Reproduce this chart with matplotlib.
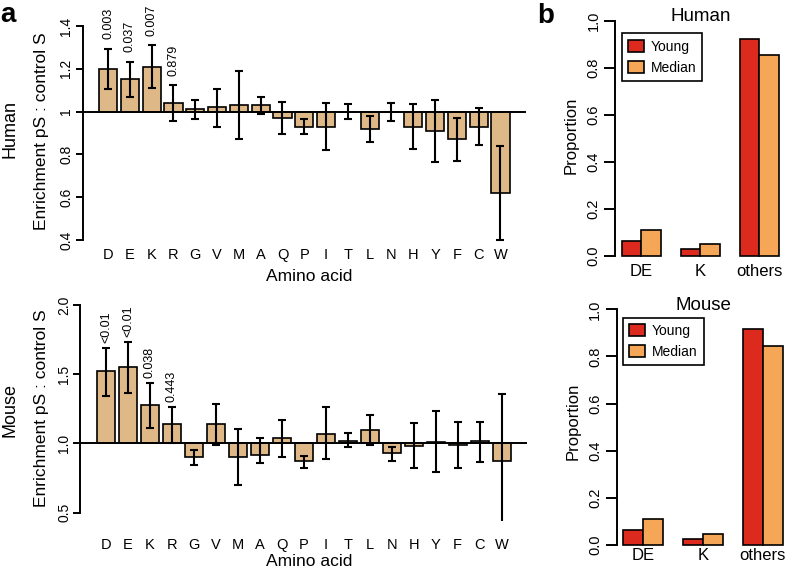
import numpy as np
import matplotlib
matplotlib.use('Agg')
import matplotlib.pyplot as plt

plt.rcParams['font.family'] = ['Liberation Sans', 'DejaVu Sans']

# data
amino = ['D', 'E', 'K', 'R', 'G', 'V', 'M', 'A', 'Q', 'P', 'I', 'T', 'L', 'N', 'H', 'Y', 'F', 'C', 'W']

human_val = [1.20, 1.15, 1.21, 1.04, 1.01, 1.02, 1.03, 1.03, 0.97, 0.93, 0.93, 1.00, 0.92, 1.00, 0.93, 0.91, 0.87, 0.93, 0.62]
human_lo = [1.107, 1.07, 1.112, 0.958, 0.966, 0.93, 0.871, 0.99, 0.894, 0.895, 0.82, 0.964, 0.858, 0.956, 0.823, 0.764, 0.77, 0.845, 0.40]
human_hi = [1.294, 1.233, 1.31, 1.122, 1.052, 1.107, 1.188, 1.069, 1.044, 0.964, 1.04, 1.035, 0.98, 1.042, 1.036, 1.055, 0.969, 1.017, 0.84]
human_p = ['0.003', '0.037', '0.007', '0.879']

mouse_val = [1.52, 1.55, 1.28, 1.14, 0.90, 1.14, 0.90, 0.92, 1.04, 0.87, 1.07, 1.02, 1.10, 0.93, 0.98, 1.01, 0.99, 1.02, 0.87]
mouse_lo = [1.343, 1.365, 1.115, 1.004, 0.844, 0.988, 0.70, 0.86, 0.904, 0.824, 0.887, 0.971, 0.988, 0.875, 0.82, 0.795, 0.824, 0.867, 0.387]
mouse_hi = [1.692, 1.735, 1.44, 1.264, 0.952, 1.288, 1.108, 1.036, 1.168, 0.911, 1.26, 1.079, 1.204, 0.976, 1.149, 1.233, 1.156, 1.156, 1.36]
mouse_p = ['<0.01', '<0.01', '0.038', '0.443']

groups = ['DE', 'K', 'others']
human_young = [0.063, 0.030, 0.921]
human_median = [0.109, 0.050, 0.854]
mouse_young = [0.064, 0.024, 0.915]
mouse_median = [0.110, 0.045, 0.844]

tan = '#DEB887'
c_young = '#DD2A1E'
c_median = '#F5A656'

W, H = 786, 568
fig = plt.figure(figsize=(W / 100, H / 100), dpi=100)


def px_axes(x0, y0, x1, y1):
    # pixel box (top-left origin) -> figure axes
    return fig.add_axes([x0 / W, 1 - y1 / H, (x1 - x0) / W, (y1 - y0) / H])


def enrich_panel(ax, val, lo, hi, pvals, ylim, yticks, ylabs, xpad, p_off):
    val = np.array(val)
    x = 0.7 + 1.2 * np.arange(len(amino))
    ax.bar(x, val - 1, bottom=1, width=1, color=tan, edgecolor='black', linewidth=1.2, zorder=2)
    ax.axhline(1, color='black', lw=1.4, zorder=3)
    ax.errorbar(x, val, yerr=[val - np.array(lo), np.array(hi) - val], fmt='none',
                ecolor='black', elinewidth=1.5, capsize=3, capthick=1.5, zorder=4)
    for i, p in enumerate(pvals):
        ax.annotate(p, (x[i], hi[i]), xytext=(0, p_off), textcoords='offset points',
                    rotation=90, ha='center', va='bottom', fontsize=9)
    ax.set_xlim(-0.704, 23.704)
    ax.set_ylim(*ylim)
    ax.set_xticks(x)
    ax.set_xticklabels(amino, fontsize=10.5)
    ax.tick_params(axis='x', length=0, pad=xpad)
    ax.set_yticks(yticks)
    ax.set_yticklabels(ylabs, rotation=90, va='center', fontsize=10)
    ax.tick_params(axis='y', length=5, width=1.4, pad=1.5)
    for s in ['top', 'right', 'bottom']:
        ax.spines[s].set_visible(False)
    ax.spines['left'].set_linewidth(1.4)
    ax.spines['left'].set_bounds(yticks[0], yticks[-1])
    ax.patch.set_visible(False)


def prop_panel(ax, young, median, title, xpad, leg_xy):
    xg = np.array([2, 5, 8])
    b1 = ax.bar(xg - 0.5, young, width=1, color=c_young, edgecolor='black', linewidth=1.2)
    b2 = ax.bar(xg + 0.5, median, width=1, color=c_median, edgecolor='black', linewidth=1.2)
    ax.set_xlim(0.68, 9.32)
    ax.set_ylim(-0.04, 1.04)
    ax.set_xticks(xg)
    ax.set_xticklabels(groups, fontsize=12)
    ax.tick_params(axis='x', length=0, pad=xpad)
    yt = [0, 0.2, 0.4, 0.6, 0.8, 1.0]
    ax.set_yticks(yt)
    ax.set_yticklabels(['%.1f' % v for v in yt], rotation=90, va='center', fontsize=10.5)
    ax.tick_params(axis='y', length=8, width=1.4, pad=2.5)
    for s in ['top', 'right', 'bottom']:
        ax.spines[s].set_visible(False)
    ax.spines['left'].set_linewidth(1.4)
    ax.spines['left'].set_bounds(0, 1)
    ax.patch.set_visible(False)
    ax.text(0.5, 0.978, title, transform=ax.transAxes, ha='center', va='center', fontsize=13.5)
    leg = ax.legend([b1, b2], ['Young', 'Median'], loc='upper left', bbox_to_anchor=leg_xy,
                    borderaxespad=0, fancybox=False, edgecolor='black', framealpha=1,
                    fontsize=10, handlelength=1.13, handleheight=0.91, handletextpad=0.5,
                    labelspacing=0.5, borderpad=0.45)
    leg.get_frame().set_linewidth(1.2)


# a: enrichment, human
ax1 = px_axes(82.5, 17.4, 526, 248.6)
enrich_panel(ax1, human_val, human_lo, human_hi, human_p, (0.36, 1.44),
             [0.4, 0.6, 0.8, 1.0, 1.2, 1.4], ['0.4', '0.6', '0.8', '1', '1.2', '1.4'], -0.5, 6.7)
ax1.set_xlabel('Amino acid', fontsize=12.5)
ax1.xaxis.set_label_coords(0.511, -0.09)
ax1.set_ylabel('Enrichment pS : control S', fontsize=12.5)
ax1.yaxis.set_label_coords(-0.075, 0.509)

# a: enrichment, mouse
ax2 = px_axes(80.3, 296.7, 527.4, 521)
enrich_panel(ax2, mouse_val, mouse_lo, mouse_hi, mouse_p, (0.44, 2.06),
             [0.5, 1.0, 1.5, 2.0], ['0.5', '1.0', '1.5', '2.0'], 12.3, 3.2)
ax2.set_xlabel('Amino acid', fontsize=12.5)
ax2.xaxis.set_label_coords(0.513, -0.145)
ax2.set_ylabel('Enrichment pS : control S', fontsize=12.5)
ax2.yaxis.set_label_coords(-0.0696, 0.504)

fig.text(18.8 / W, 1 - 129 / H, 'Human', rotation=90, ha='right', va='center', fontsize=13)
fig.text(18.8 / W, 1 - 410 / H, 'Mouse', rotation=90, ha='right', va='center', fontsize=13)

# b: proportions
ax3 = px_axes(615.4, 11.3, 785.3, 265.4)
prop_panel(ax3, human_young, human_median, 'Human', -1, (0.037, 0.913))
ax3.set_ylabel('Proportion', fontsize=12)
ax3.yaxis.set_label_coords(-0.218, 0.513)

ax4 = px_axes(616.9, 299.9, 789, 554.4)
prop_panel(ax4, mouse_young, mouse_median, 'Mouse', -4.5, (0.034, 0.930))
ax4.set_ylabel('Proportion', fontsize=12)
ax4.yaxis.set_label_coords(-0.213, 0.524)

fig.text(0 / W, 1 - 22 / H, 'a', fontsize=20, fontweight='bold', ha='left', va='baseline')
fig.text(537 / W, 1 - 23 / H, 'b', fontsize=20, fontweight='bold', ha='left', va='baseline')

fig.savefig('out.png', dpi=100)
